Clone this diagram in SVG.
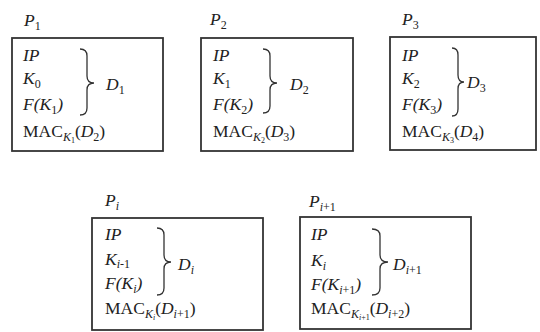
<svg xmlns="http://www.w3.org/2000/svg" width="540" height="332" viewBox="0 0 540 332" font-family="'Liberation Serif', 'DejaVu Serif', serif">
<style>
text{font-family:'Liberation Serif','Times New Roman','DejaVu Serif',serif;font-size:17.5px;fill:#222}
.s{font-size:12px;font-style:normal}
.i{font-style:italic}
.box{fill:#fff;stroke:#333;stroke-width:1.8}
.br{fill:none;stroke:#333;stroke-width:1.3}
</style>
<rect width="540" height="332" fill="#fff"/>
<g id="p1">
<text x="24" y="26" class="i">P<tspan class="s" dy="4">1</tspan></text>
<rect class="box" x="12" y="38" width="151" height="113"/>
<text x="23" y="61" class="i">IP</text>
<text x="23" y="84" class="i">K<tspan class="s" dy="4">0</tspan></text>
<text x="23" y="110" class="i">F(K<tspan class="s" dy="4">1</tspan><tspan dy="-4">)</tspan></text>
<text x="23" y="137">MAC<tspan class="s i" dy="4">K</tspan><tspan dy="2" font-size="8">1</tspan><tspan dy="-6">(</tspan><tspan class="i">D</tspan><tspan class="s" dy="4">2</tspan><tspan dy="-4">)</tspan></text>
<path class="br" d="M80,49 Q87,49 87,56 L87,76 Q87,83 94,83 Q87,83 87,90 L87,108 Q87,115 80,115"/>
<text x="106" y="90" class="i">D<tspan class="s" dy="4">1</tspan></text>
</g>
<g id="p2">
<text x="210" y="25" class="i">P<tspan class="s" dy="4">2</tspan></text>
<rect class="box" x="201" y="38" width="152" height="113"/>
<text x="213" y="61" class="i">IP</text>
<text x="213" y="84" class="i">K<tspan class="s" dy="4">1</tspan></text>
<text x="213" y="110" class="i">F(K<tspan class="s" dy="4">2</tspan><tspan dy="-4">)</tspan></text>
<text x="213" y="137">MAC<tspan class="s i" dy="4">K</tspan><tspan dy="2" font-size="8">2</tspan><tspan dy="-6">(</tspan><tspan class="i">D</tspan><tspan class="s" dy="4">3</tspan><tspan dy="-4">)</tspan></text>
<path class="br" d="M263,49 Q270,49 270,56 L270,76 Q270,83 277,83 Q270,83 270,90 L270,106 Q270,113 263,113"/>
<text x="290" y="90" class="i">D<tspan class="s" dy="4">2</tspan></text>
</g>
<g id="p3">
<text x="402" y="25" class="i">P<tspan class="s" dy="4">3</tspan></text>
<rect class="box" x="390" y="37" width="146" height="113"/>
<text x="402" y="61" class="i">IP</text>
<text x="402" y="84" class="i">K<tspan class="s" dy="4">2</tspan></text>
<text x="402" y="110" class="i">F(K<tspan class="s" dy="4">3</tspan><tspan dy="-4">)</tspan></text>
<text x="402" y="137">MAC<tspan class="s i" dy="4">K</tspan><tspan dy="2" font-size="8">3</tspan><tspan dy="-6">(</tspan><tspan class="i">D</tspan><tspan class="s" dy="4">4</tspan><tspan dy="-4">)</tspan></text>
<path class="br" d="M452,48 Q458,48 458,55 L458,75 Q458,82 464,82 Q458,82 458,89 L458,109 Q458,116 452,116"/>
<text x="467" y="88" class="i">D<tspan class="s" dy="4">3</tspan></text>
</g>
<g id="pi">
<text x="105" y="206" class="i">P<tspan class="s i" dy="4">i</tspan></text>
<rect class="box" x="92" y="218" width="171" height="112"/>
<text x="105" y="240" class="i">IP</text>
<text x="105" y="265" class="i">K<tspan class="s" dy="3"><tspan class="i">i</tspan>-1</tspan></text>
<text x="105" y="289" class="i">F(K<tspan class="s i" dy="4">i</tspan><tspan dy="-4">)</tspan></text>
<text x="105" y="314">MAC<tspan class="s i" dy="4">K</tspan><tspan dy="2" font-size="8" class="i">i</tspan><tspan dy="-6">(</tspan><tspan class="i">D</tspan><tspan class="s" dy="4"><tspan class="i">i</tspan>+1</tspan><tspan dy="-4">)</tspan></text>
<path class="br" d="M157,228 Q164,228 164,235 L164,255 Q164,262 171,262 Q164,262 164,269 L164,288 Q164,295 157,295"/>
<text x="178" y="270" class="i">D<tspan class="s i" dy="4">i</tspan></text>
</g>
<g id="pi1">
<text x="309" y="207" class="i">P<tspan class="s" dy="4"><tspan class="i">i</tspan>+1</tspan></text>
<rect class="box" x="300" y="217" width="171" height="112"/>
<text x="311" y="240" class="i">IP</text>
<text x="311" y="266" class="i">K<tspan class="s i" dy="4">i</tspan></text>
<text x="311" y="290" class="i">F(K<tspan class="s" dy="4"><tspan class="i">i</tspan>+1</tspan><tspan dy="-4">)</tspan></text>
<text x="311" y="314">MAC<tspan class="s i" dy="4">K</tspan><tspan dy="2" font-size="8"><tspan class="i">i</tspan>+1</tspan><tspan dy="-6">(</tspan><tspan class="i">D</tspan><tspan class="s" dy="4"><tspan class="i">i</tspan>+2</tspan><tspan dy="-4">)</tspan></text>
<path class="br" d="M372,229 Q380,229 380,236 L380,255 Q380,262 388,262 Q380,262 380,269 L380,288 Q380,295 372,295"/>
<text x="393" y="270" class="i">D<tspan class="s" dy="4"><tspan class="i">i</tspan>+1</tspan></text>
</g>
<g id="connectors"></g>
</svg>
